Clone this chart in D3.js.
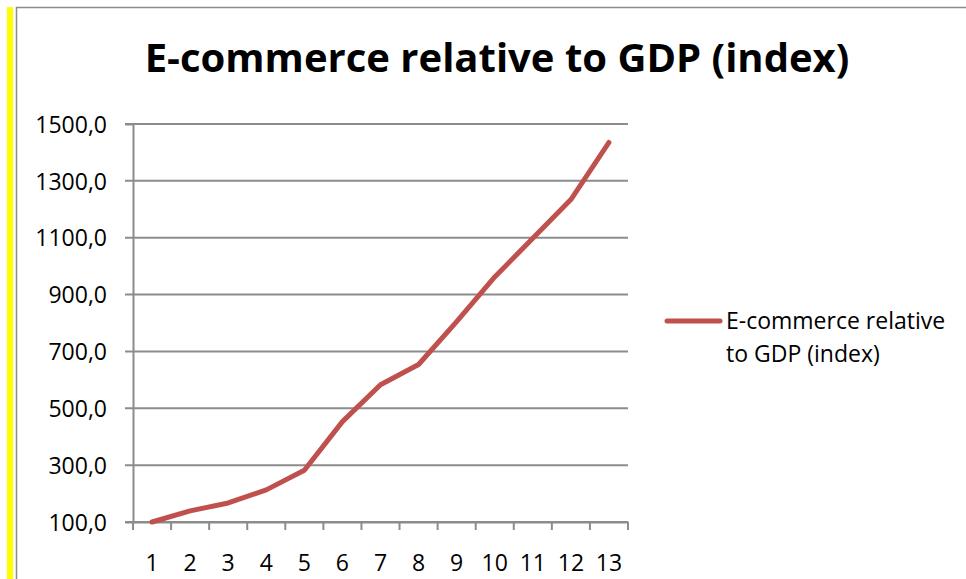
<!DOCTYPE html>
<html>
<head>
<meta charset="utf-8">
<script src="https://cdn.jsdelivr.net/npm/d3@7"></script>
<style>
  body { margin: 0; background: #fff; }
  svg { display: block; }
  text { font-family: "Open Sans", sans-serif; fill: #000; }
</style>
</head>
<body>
<div id="chart"></div>
<script>
// chart data
const categories = ['1', '2', '3', '4', '5', '6', '7', '8', '9', '10', '11', '12', '13'];
const values = [100, 139, 167, 213, 282, 453, 583, 654, 805, 962, 1098, 1234, 1435];
const yTicks = [100, 300, 500, 700, 900, 1100, 1300, 1500];
const seriesName = 'E-commerce relative to GDP (index)';
const titleText = 'E-commerce relative to GDP (index)';

const W = 966, H = 579;
const margin = {top: 124, right: 338, bottom: 57, left: 133},
    width = W - margin.left - margin.right,
    height = H - margin.top - margin.bottom;

const svgRoot = d3.select('#chart')
  .append('svg')
    .attr('width', W)
    .attr('height', H);

// frame + yellow strip at left
svgRoot.append('rect')
  .attr('x', 16.5).attr('y', 7.5)
  .attr('width', W).attr('height', H)
  .attr('fill', 'none')
  .attr('stroke', '#8c8c8c')
  .attr('stroke-width', 1.5);
svgRoot.append('rect')
  .attr('x', 7).attr('y', 7)
  .attr('width', 6).attr('height', H)
  .attr('fill', '#ffff00');

// title
const title = svgRoot.append('text')
  .attr('x', 497).attr('y', 72)
  .attr('text-anchor', 'middle')
  .style('font-weight', 'bold')
  .style('font-size', '39px')
  .text(titleText);
const tl = title.node().getComputedTextLength();
if (tl > 0) title.style('font-size', (39 * 705 / tl) + 'px');

const svg = svgRoot.append('g')
  .attr('transform', `translate(${margin.left},${margin.top})`);

const x = d3.scaleBand().domain(categories).range([0, width]);
const y = d3.scaleLinear().domain([100, 1500]).range([height, 0]);

// gridlines
svg.append('g')
  .selectAll('line')
  .data(yTicks)
  .join('line')
    .attr('x1', -8).attr('x2', width)
    .attr('y1', d => y(d)).attr('y2', d => y(d))
    .attr('stroke', '#8c8c8c')
    .attr('stroke-width', 2);

// y axis
const yAxis = svg.append('g')
  .call(d3.axisLeft(y).tickValues(yTicks).tickSize(8).tickPadding(18)
    .tickFormat(d => d3.format('.1f')(d).replace('.', ',')));
yAxis.select('.domain').attr('stroke', '#8c8c8c').attr('stroke-width', 2);
yAxis.selectAll('.tick line').attr('stroke', 'none');
yAxis.selectAll('text').style('font-size', '23px').attr('dy', '0.36em');

// x axis
const xAxis = svg.append('g')
  .attr('transform', `translate(0,${height})`)
  .call(d3.axisBottom(x).tickSize(0).tickPadding(33));
xAxis.select('.domain').attr('stroke', '#8c8c8c').attr('stroke-width', 2);
xAxis.selectAll('text').style('font-size', '23px');
svg.append('g')
  .selectAll('line')
  .data(d3.range(categories.length + 1))
  .join('line')
    .attr('x1', i => i * x.step()).attr('x2', i => i * x.step())
    .attr('y1', height).attr('y2', height + 8)
    .attr('stroke', '#8c8c8c')
    .attr('stroke-width', 2);

// series line
const line = d3.line()
  .x((d, i) => x(categories[i]) + x.bandwidth() / 2)
  .y(d => y(d));
svg.append('path')
  .datum(values)
  .attr('d', line)
  .attr('fill', 'none')
  .attr('stroke', '#c0504d')
  .attr('stroke-width', 5)
  .attr('stroke-linejoin', 'round')
  .attr('stroke-linecap', 'round');

// legend
const legend = svgRoot.append('g');
legend.append('line')
  .attr('x1', 667).attr('x2', 720)
  .attr('y1', 321).attr('y2', 321)
  .attr('stroke', '#c0504d')
  .attr('stroke-width', 5)
  .attr('stroke-linecap', 'round');
const words = seriesName.split(' ');
const legLines = [words.slice(0, 2).join(' '), words.slice(2).join(' ')];
legend.selectAll('text.leg')
  .data(legLines)
  .join('text')
    .attr('class', 'leg')
    .attr('x', 726)
    .attr('y', (d, i) => 329 + i * 33)
    .style('font-size', '23px')
    .text(d => d);
</script>
</body>
</html>
